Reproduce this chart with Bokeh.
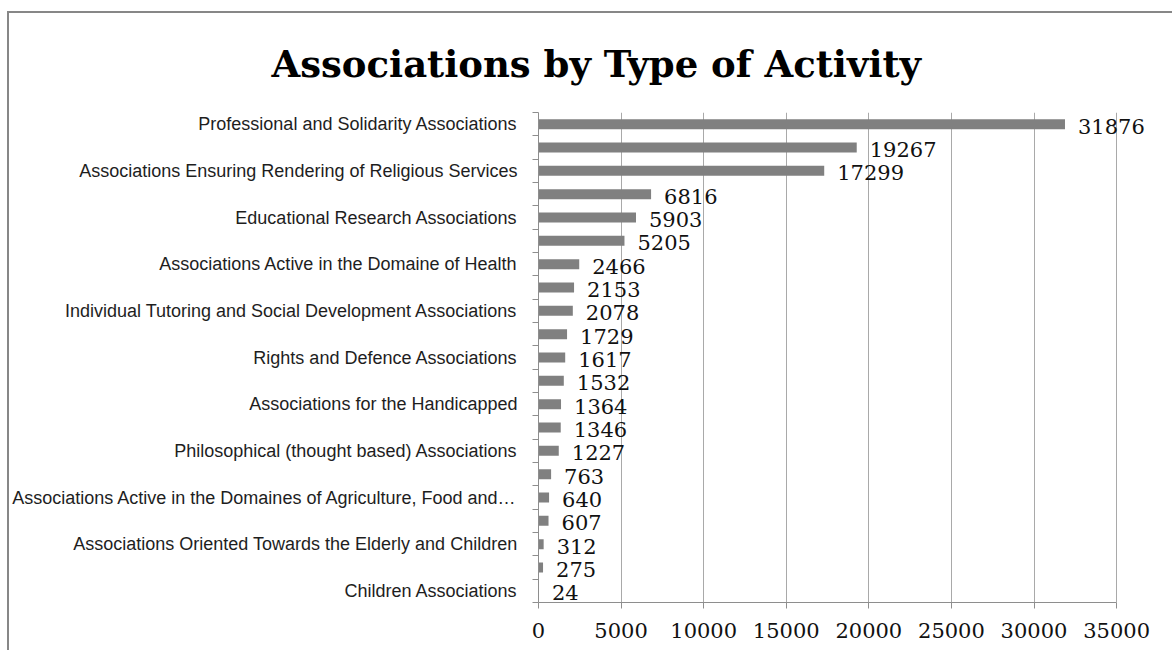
from bokeh.plotting import figure
from bokeh.models import Range1d, FixedTicker, LabelSet, ColumnDataSource
from bokeh.core.properties import value
from bokeh.embed import file_html
from bokeh.resources import INLINE

title_text = "Associations by Type of Activity"

values = [31876, 19267, 17299, 6816, 5903, 5205, 2466, 2153, 2078, 1729, 1617,
          1532, 1364, 1346, 1227, 763, 640, 607, 312, 275, 24]

category_labels = [
    "Professional and Solidarity Associations", "",
    "Associations Ensuring Rendering of Religious Services", "",
    "Educational Research Associations", "",
    "Associations Active in the Domaine of Health", "",
    "Individual Tutoring and Social Development Associations", "",
    "Rights and Defence Associations", "",
    "Associations for the Handicapped", "",
    "Philosophical (thought based) Associations", "",
    "Associations Active in the Domaines of Agriculture, Food and\u2026", "",
    "Associations Oriented Towards the Elderly and Children", "",
    "Children Associations",
]

x_ticks = [0, 5000, 10000, 15000, 20000, 25000, 30000, 35000]

n = len(values)
ypos = [n - 1 - i for i in range(n)]
src = ColumnDataSource(dict(y=ypos, v=values, txt=[str(v) for v in values]))

SERIF = "'DejaVu Serif'"
SANS = "'Liberation Sans'"

p = figure(width=1165, height=639, title=title_text,
           x_range=Range1d(0, 38506), y_range=Range1d(-0.5, n - 0.5),
           output_backend="svg", toolbar_location=None,
           min_border_left=528, min_border_right=0,
           min_border_top=99, min_border_bottom=50)
p.margin = (11, 0, 0, 7)
p.styles = {"border-top": "2px solid #878787", "border-left": "2px solid #878787"}
p.outline_line_color = None
p.background_fill_color = "white"
p.border_fill_color = "white"

p.title.align = "left"
p.title.vertical_align = "top"
p.title.offset = -267
p.title.standoff = 50
p.title.text_font = SERIF
p.title.text_font_style = "bold"
p.title.text_font_size = "37px"
p.title.text_color = "black"

p.hbar(y="y", left=0, right="v", height=0.43, source=src,
       fill_color="#808080", line_color=None)

grey = "#8e8e8e"
# x axis
p.xaxis.bounds = (0, 35000)
p.xaxis.ticker = FixedTicker(ticks=x_ticks)
p.xaxis.major_tick_out = 6
p.xaxis.major_tick_in = 0
p.xaxis.minor_tick_line_color = None
p.xaxis.axis_line_color = grey
p.xaxis.major_tick_line_color = grey
p.xaxis.major_label_standoff = 14
p.xaxis.major_label_text_font = SERIF
p.xaxis.major_label_text_font_size = "21px"
p.xaxis.major_label_text_color = "#111111"

p.xgrid.ticker = FixedTicker(ticks=x_ticks)
p.xgrid.grid_line_color = "#a9a9a9"
p.ygrid.grid_line_color = None

# y axis
label_pos = [ypos[i] for i in range(n) if category_labels[i]]
boundaries = [k - 0.5 for k in range(n + 1)]
p.yaxis.ticker = FixedTicker(ticks=label_pos, minor_ticks=boundaries)
p.yaxis.major_label_overrides = {float(ypos[i]): category_labels[i] for i in range(n) if category_labels[i]}
p.yaxis.major_tick_out = 0
p.yaxis.major_tick_in = 0
p.yaxis.minor_tick_out = 6
p.yaxis.minor_tick_in = 0
p.yaxis.minor_tick_line_color = grey
p.yaxis.axis_line_color = grey
p.yaxis.major_label_standoff = 15
p.yaxis.major_label_text_font = SANS
p.yaxis.major_label_text_font_size = "18px"
p.yaxis.major_label_text_color = "#1e1e1e"

labels = LabelSet(x="v", y="y", text="txt", source=src, x_offset=13, y_offset=-2,
                  text_baseline="middle", text_font=value(SERIF),
                  text_font_size=value("21px"), text_color="#111111")
p.add_layout(labels)

open("out.html", "w").write(file_html(p, INLINE))
